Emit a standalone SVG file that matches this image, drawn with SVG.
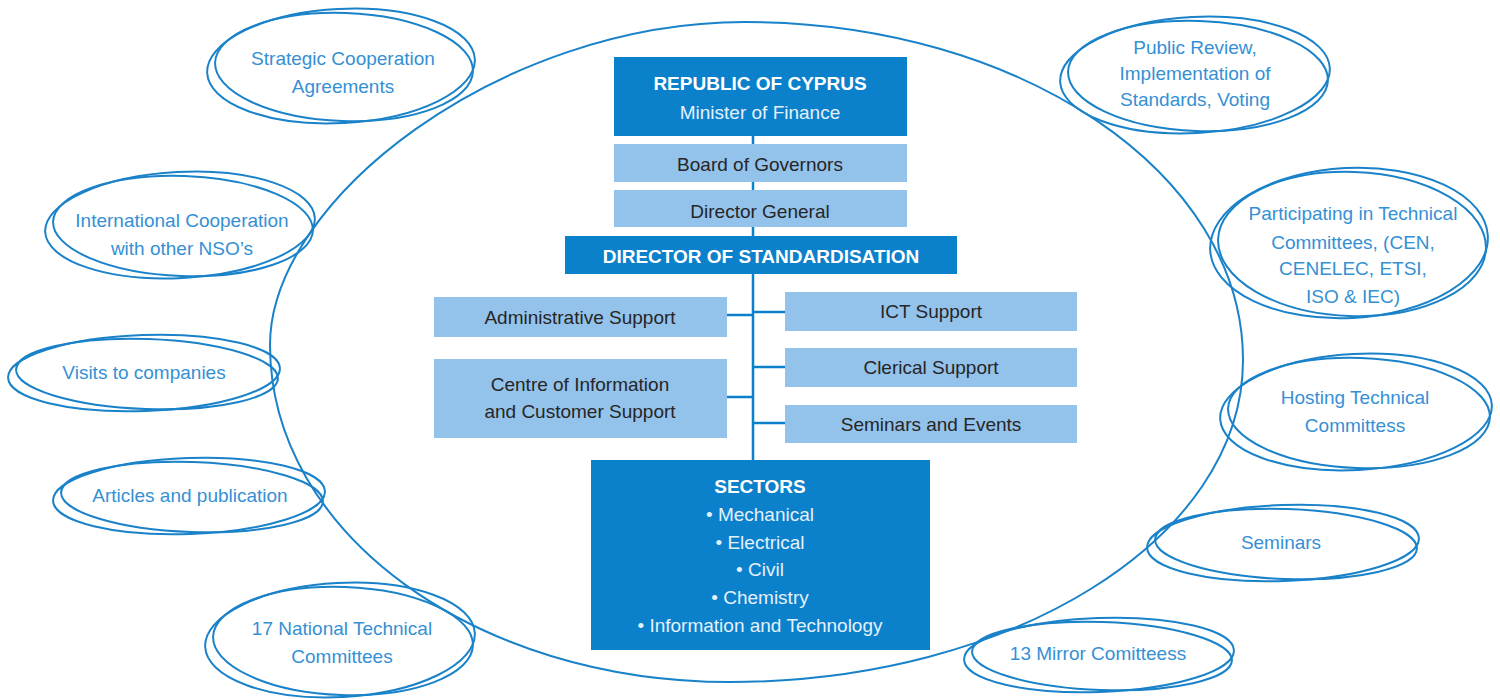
<svg xmlns="http://www.w3.org/2000/svg" width="1500" height="699" viewBox="0 0 1500 699">
<style>
.dark{fill:#0b80cb}
.light{fill:#93c2ea}
.t{font-family:"Liberation Sans",Arial,sans-serif;font-size:19px;text-anchor:middle}
.b{font-weight:bold;fill:#ffffff}
.w{fill:#e4f1fb}
.k{fill:#262626}
.e{fill:none;stroke:#1a82c9;stroke-width:2}
.et{fill:#3590d4}
.c{fill:none;stroke:#0b80cb;stroke-width:2.5}
</style>
<rect width="1500" height="699" fill="#ffffff"/>
<g id="outline">
<path class="e" d="M745 22 C1020 22 1243 173 1243 360 C1243 540 1010 682 730 682 C476 682 270 534 270 345 C270 200 500 22 745 22 Z"/>
</g>
<g id="connectors">
<line class="c" x1="753" y1="136" x2="753" y2="460"/>
<line class="c" x1="727" y1="315" x2="753" y2="315"/>
<line class="c" x1="727" y1="397" x2="753" y2="397"/>
<line class="c" x1="753" y1="312" x2="785" y2="312"/>
<line class="c" x1="753" y1="367" x2="785" y2="367"/>
<line class="c" x1="753" y1="423" x2="785" y2="423"/>
</g>
<g id="republic">
<rect class="dark" x="614" y="57" width="293" height="79"/>
<text class="t b" x="760" y="90">REPUBLIC OF CYPRUS</text>
<text class="t w" x="760" y="119">Minister of Finance</text>
</g>
<g id="board">
<rect class="light" x="614" y="144" width="293" height="38"/>
<text class="t k" x="760" y="171">Board of Governors</text>
</g>
<g id="director-general">
<rect class="light" x="614" y="190" width="293" height="37"/>
<text class="t k" x="760" y="218">Director General</text>
</g>
<g id="director-standardisation">
<rect class="dark" x="565" y="236" width="392" height="38"/>
<text class="t b" x="761" y="263">DIRECTOR OF STANDARDISATION</text>
</g>
<g id="admin">
<rect class="light" x="434" y="297" width="293" height="40"/>
<text class="t k" x="580" y="324">Administrative Support</text>
</g>
<g id="centre">
<rect class="light" x="434" y="359" width="293" height="79"/>
<text class="t k" x="580" y="391">Centre of Information</text>
<text class="t k" x="580" y="418">and Customer Support</text>
</g>
<g id="ict">
<rect class="light" x="785" y="292" width="292" height="39"/>
<text class="t k" x="931" y="318">ICT Support</text>
</g>
<g id="clerical">
<rect class="light" x="785" y="348" width="292" height="39"/>
<text class="t k" x="931" y="374">Clerical Support</text>
</g>
<g id="seminars-events">
<rect class="light" x="785" y="405" width="292" height="38"/>
<text class="t k" x="931" y="431">Seminars and Events</text>
</g>
<g id="sectors">
<rect class="dark" x="591" y="460" width="339" height="190"/>
<text class="t b" x="760" y="493">SECTORS</text>
<text class="t w" x="760" y="521">• Mechanical</text>
<text class="t w" x="760" y="549">• Electrical</text>
<text class="t w" x="760" y="576">• Civil</text>
<text class="t w" x="760" y="604">• Chemistry</text>
<text class="t w" x="760" y="632">• Information and Technology</text>
</g>
<g id="strategic">
<ellipse class="e" cx="341" cy="66" rx="134" ry="57" transform="rotate(-3 341 66)"/>
<ellipse class="e" cx="344" cy="67" rx="129" ry="54" transform="rotate(2 344 67)"/>
<text class="t et" x="343" y="65">Strategic Cooperation</text>
<text class="t et" x="343" y="93">Agreements</text>
</g>
<g id="international">
<ellipse class="e" cx="180" cy="225" rx="135" ry="53" transform="rotate(-3 180 225)"/>
<ellipse class="e" cx="183" cy="226" rx="130" ry="50" transform="rotate(2 183 226)"/>
<text class="t et" x="182" y="227">International Cooperation</text>
<text class="t et" x="182" y="255">with other NSO’s</text>
</g>
<g id="public-review">
<ellipse class="e" cx="1195" cy="75" rx="135" ry="58" transform="rotate(-3 1195 75)"/>
<ellipse class="e" cx="1198" cy="76" rx="130" ry="55" transform="rotate(2 1198 76)"/>
<text class="t et" x="1195" y="54">Public Review,</text>
<text class="t et" x="1195" y="80">Implementation of</text>
<text class="t et" x="1195" y="106">Standards, Voting</text>
</g>
<g id="participating">
<ellipse class="e" cx="1349" cy="243" rx="139" ry="75" transform="rotate(-3 1349 243)"/>
<ellipse class="e" cx="1352" cy="244" rx="134" ry="72" transform="rotate(2 1352 244)"/>
<text class="t et" x="1353" y="220">Participating in Technical</text>
<text class="t et" x="1353" y="249">Committees, (CEN,</text>
<text class="t et" x="1353" y="275">CENELEC, ETSI,</text>
<text class="t et" x="1353" y="303">ISO &amp; IEC)</text>
</g>
<g id="visits">
<ellipse class="e" cx="144" cy="373" rx="136" ry="38" transform="rotate(-2 144 373)"/>
<ellipse class="e" cx="147" cy="374" rx="131" ry="35" transform="rotate(2 147 374)"/>
<text class="t et" x="144" y="379">Visits to companies</text>
</g>
<g id="articles">
<ellipse class="e" cx="189" cy="496" rx="136" ry="38" transform="rotate(-2 189 496)"/>
<ellipse class="e" cx="192" cy="497" rx="131" ry="35" transform="rotate(2 192 497)"/>
<text class="t et" x="190" y="502">Articles and publication</text>
</g>
<g id="national">
<ellipse class="e" cx="340" cy="640" rx="135" ry="57" transform="rotate(-3 340 640)"/>
<ellipse class="e" cx="343" cy="641" rx="130" ry="54" transform="rotate(2 343 641)"/>
<text class="t et" x="342" y="635">17 National Technical</text>
<text class="t et" x="342" y="663">Committees</text>
</g>
<g id="hosting">
<ellipse class="e" cx="1356" cy="412" rx="136" ry="58" transform="rotate(-3 1356 412)"/>
<ellipse class="e" cx="1359" cy="413" rx="131" ry="55" transform="rotate(2 1359 413)"/>
<text class="t et" x="1355" y="404">Hosting Technical</text>
<text class="t et" x="1355" y="432">Committess</text>
</g>
<g id="seminars">
<ellipse class="e" cx="1283" cy="543" rx="136" ry="38" transform="rotate(-2 1283 543)"/>
<ellipse class="e" cx="1286" cy="544" rx="131" ry="35" transform="rotate(2 1286 544)"/>
<text class="t et" x="1281" y="549">Seminars</text>
</g>
<g id="mirror">
<ellipse class="e" cx="1099" cy="655" rx="135" ry="37" transform="rotate(-2 1099 655)"/>
<ellipse class="e" cx="1102" cy="656" rx="130" ry="34" transform="rotate(2 1102 656)"/>
<text class="t et" x="1098" y="660">13 Mirror Comitteess</text>
</g>
</svg>
